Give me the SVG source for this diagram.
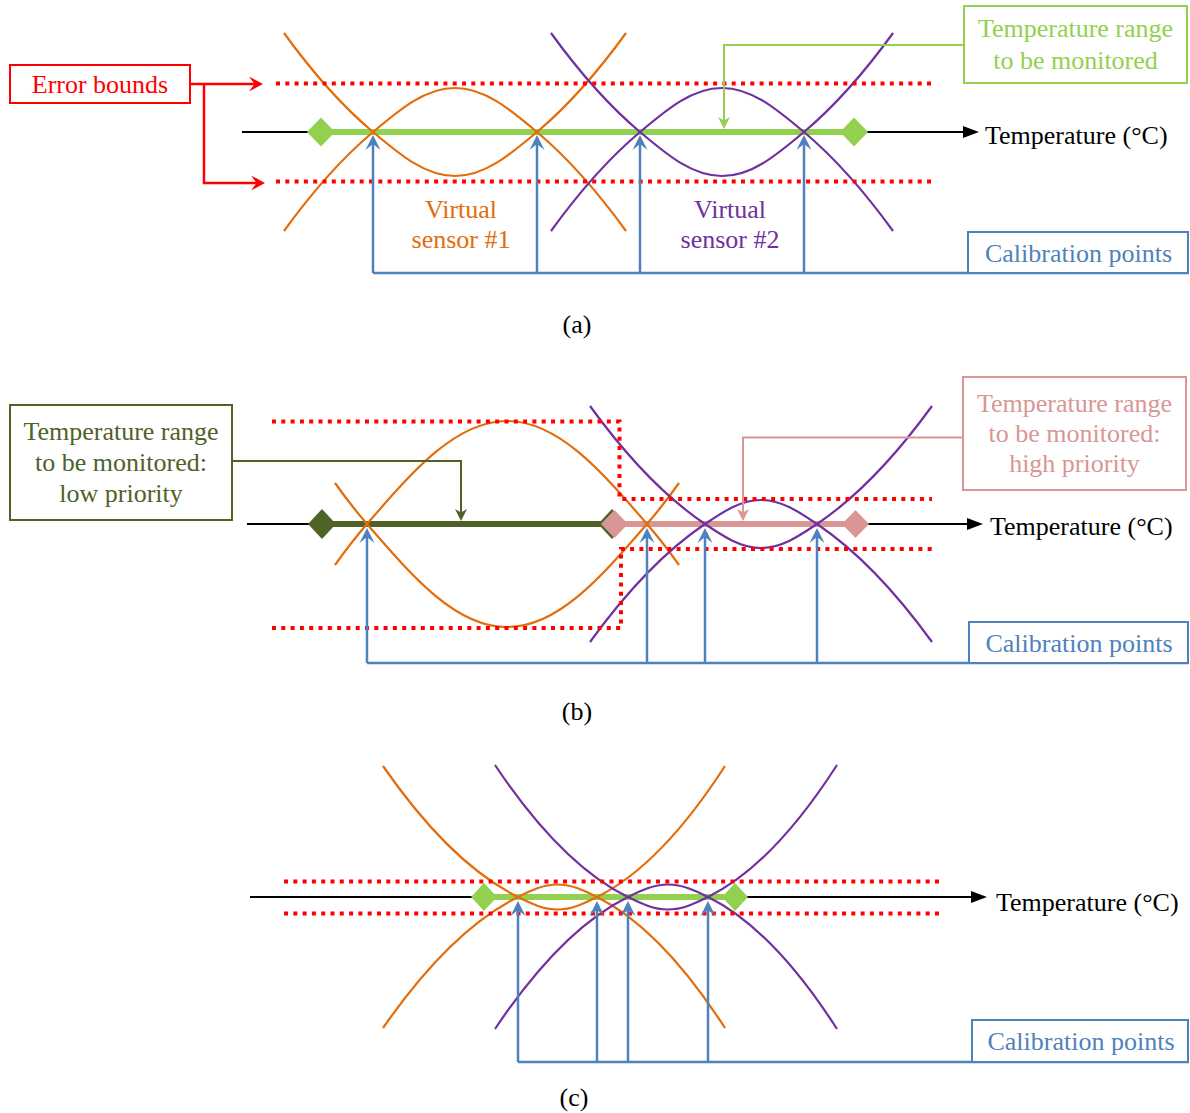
<svg xmlns="http://www.w3.org/2000/svg" width="1190" height="1113" viewBox="0 0 1190 1113">
  <style>
    .lbl { font-family: "Liberation Serif", "Times New Roman", serif; font-size: 26px; text-anchor: middle; }
    .lbl-l { font-family: "Liberation Serif", "Times New Roman", serif; font-size: 26px; }
    .axis { stroke: #000; stroke-width: 2; fill: none; }
    .bound { stroke: #FF0000; stroke-width: 4; stroke-dasharray: 4 5.3; fill: none; }
    .s1 { stroke: #E46C0A; stroke-width: 2.2; fill: none; }
    .s2 { stroke: #7030A0; stroke-width: 2.2; fill: none; }
    .cal { stroke: #4F81BD; stroke-width: 2.5; fill: none; }
    .box { fill: #fff; stroke-width: 2; }
  </style>
  <defs>
    <marker id="tri" viewBox="0 -7 17 14" refX="0" refY="0" markerWidth="17" markerHeight="14" markerUnits="userSpaceOnUse" orient="auto">
      <path d="M0,-6 L16,0 L0,6 Z" fill="#000"/>
    </marker>
    <marker id="arr-blue" viewBox="-8 -9 18 18" refX="0" refY="0" markerWidth="18" markerHeight="18" markerUnits="userSpaceOnUse" orient="auto">
      <path d="M8,0 L-7,-7.5 L-1,0 L-7,7.5 Z" fill="#4F81BD"/>
    </marker>
    <marker id="arr-red" viewBox="-8 -9 18 18" refX="0" refY="0" markerWidth="18" markerHeight="18" markerUnits="userSpaceOnUse" orient="auto">
      <path d="M8,0 L-6,-7.5 L-0.5,0 L-6,7.5 Z" fill="#FF0000"/>
    </marker>
    <marker id="arr-green" viewBox="-6 -8 16 16" refX="0" refY="0" markerWidth="16" markerHeight="16" markerUnits="userSpaceOnUse" orient="auto">
      <path d="M8,0 L-4,-6 L-0.5,0 L-4,6 Z" fill="#92D050"/>
    </marker>
    <marker id="arr-dkgreen" viewBox="-6 -8 16 16" refX="0" refY="0" markerWidth="16" markerHeight="16" markerUnits="userSpaceOnUse" orient="auto">
      <path d="M8,0 L-4,-6 L-0.5,0 L-4,6 Z" fill="#4F6228"/>
    </marker>
    <marker id="arr-pink" viewBox="-6 -8 16 16" refX="0" refY="0" markerWidth="16" markerHeight="16" markerUnits="userSpaceOnUse" orient="auto">
      <path d="M8,0 L-4,-6 L-0.5,0 L-4,6 Z" fill="#D99694"/>
    </marker>
  </defs>

  <!-- ===== Panel (a) ===== -->
  <g id="panel-a">
    <g id="a-axis">
      <line class="axis" x1="242" y1="132" x2="963" y2="132" marker-end="url(#tri)"/>
      <text class="lbl-l" x="985" y="144" fill="#000">Temperature (°C)</text>
    </g>
    <g id="a-range">
      <line x1="321" y1="132" x2="854" y2="132" stroke="#92D050" stroke-width="6"/>
      <path d="M307,132 L321,117.5 L335,132 L321,146.5 Z" fill="#92D050"/>
      <path d="M840,132 L854,117.5 L868,132 L854,146.5 Z" fill="#92D050"/>
    </g>
    <g id="a-sensor1">
      <path class="s1" d="M284,33 C313.67,74 343.33,107 373,132 C400.41,155.1 425.2,176 455,176 C484.8,176 509.59,155.1 537,132 C566.67,107 596.33,74 626,33"/>
      <path class="s1" d="M284,231 C313.67,190 343.33,157 373,132 C400.41,108.9 425.2,88 455,88 C484.8,88 509.59,108.9 537,132 C566.67,157 596.33,190 626,231"/>
    </g>
    <g id="a-sensor2" transform="translate(267,0)">
      <path class="s2" d="M284,33 C313.67,74 343.33,107 373,132 C400.41,155.1 425.2,176 455,176 C484.8,176 509.59,155.1 537,132 C566.67,107 596.33,74 626,33"/>
      <path class="s2" d="M284,231 C313.67,190 343.33,157 373,132 C400.41,108.9 425.2,88 455,88 C484.8,88 509.59,108.9 537,132 C566.67,157 596.33,190 626,231"/>
    </g>
    <g id="a-bounds">
      <line class="bound" x1="276" y1="83.5" x2="932" y2="83.5"/>
      <line class="bound" x1="276" y1="181.5" x2="932" y2="181.5"/>
    </g>
    <g id="a-label-s1" class="lbl" fill="#E46C0A">
      <text x="461" y="218">Virtual</text>
      <text x="461" y="248">sensor #1</text>
    </g>
    <g id="a-label-s2" class="lbl" fill="#7030A0">
      <text x="730" y="218">Virtual</text>
      <text x="730" y="248">sensor #2</text>
    </g>
    <g id="a-error-bounds">
      <rect class="box" x="10" y="65" width="180" height="38" stroke="#FF0000"/>
      <text class="lbl" x="100" y="93" fill="#FF0000">Error bounds</text>
    </g>
    <g id="a-range-note">
      <rect class="box" x="964" y="6" width="223" height="77" stroke="#92D050"/>
      <text class="lbl" x="1075.5" y="37" fill="#92D050">Temperature range</text>
      <text class="lbl" x="1075.5" y="68.5" fill="#92D050">to be monitored</text>
    </g>
    <g id="a-connectors">
      <path d="M190,84 H255" stroke="#FF0000" stroke-width="2.5" fill="none" marker-end="url(#arr-red)"/>
      <path d="M204,84 V183 H257" stroke="#FF0000" stroke-width="2.5" fill="none" marker-end="url(#arr-red)"/>
      <path d="M964,45 H724 V121" stroke="#92D050" stroke-width="2" fill="none" marker-end="url(#arr-green)"/>
      <path class="cal" d="M373,273 H1189"/>
      <line class="cal" x1="373" y1="273" x2="373" y2="143" marker-end="url(#arr-blue)"/>
      <line class="cal" x1="537" y1="273" x2="537" y2="143" marker-end="url(#arr-blue)"/>
      <line class="cal" x1="640" y1="273" x2="640" y2="143" marker-end="url(#arr-blue)"/>
      <line class="cal" x1="804" y1="273" x2="804" y2="143" marker-end="url(#arr-blue)"/>
    </g>
    <g id="a-calibration">
      <rect class="box" x="968" y="232" width="220" height="41" stroke="#4F81BD"/>
      <text class="lbl" x="1078.5" y="262" fill="#4F81BD">Calibration points</text>
    </g>
    <text class="lbl" x="577" y="333" fill="#000">(a)</text>
  </g>

  <!-- ===== Panel (b) ===== -->
  <g id="panel-b">
    <g id="b-axis">
      <line class="axis" x1="247" y1="524" x2="967" y2="524" marker-end="url(#tri)"/>
      <text class="lbl-l" x="990" y="535" fill="#000">Temperature (°C)</text>
    </g>
    <g id="b-range-low">
      <line x1="322" y1="524" x2="612" y2="524" stroke="#4F6228" stroke-width="6"/>
      <path d="M308,524 L322,509 L336,524 L322,539 Z" fill="#4F6228"/>
      <path d="M598,524 L612,509 L626,524 L612,539 Z" fill="#4F6228"/>
    </g>
    <g id="b-range-high">
      <line x1="614.5" y1="524" x2="855.5" y2="524" stroke="#D99694" stroke-width="6"/>
      <path d="M601,524 L614.5,510 L628,524 L614.5,538 Z" fill="#D99694"/>
      <path d="M842,524 L855.5,510 L869,524 L855.5,538 Z" fill="#D99694"/>
    </g>
    <g id="b-sensor1">
      <path class="s1" d="M335,483 C345.67,498.04 356.33,511.67 367,524 C413.8,578.09 456.12,627 507,627 C557.88,627 600.2,578.09 647,524 C657.67,511.67 668.33,498.04 679,483"/>
      <path class="s1" d="M335,565 C345.67,549.96 356.33,536.33 367,524 C413.8,469.91 456.12,421 507,421 C557.88,421 600.2,469.91 647,524 C657.67,536.33 668.33,549.96 679,565"/>
    </g>
    <g id="b-sensor2">
      <path class="s2" d="M590,406 C628.33,458.86 666.67,498.2 705,524 C723.72,536.6 740.65,548 761,548 C781.35,548 798.28,536.6 817,524 C855.33,498.2 893.67,458.86 932,406"/>
      <path class="s2" d="M590,642 C628.33,589.14 666.67,549.8 705,524 C723.72,511.4 740.65,500 761,500 C781.35,500 798.28,511.4 817,524 C855.33,549.8 893.67,589.14 932,642"/>
    </g>
    <g id="b-bounds">
      <path class="bound" d="M272,421.5 H619.5 V499 H932"/>
      <path class="bound" d="M272,628 H621 V549 H932"/>
    </g>
    <g id="b-low-note">
      <rect class="box" x="10" y="405" width="222" height="115" stroke="#4F6228"/>
      <text class="lbl" x="121" y="440" fill="#4F6228">Temperature range</text>
      <text class="lbl" x="121" y="471" fill="#4F6228">to be monitored:</text>
      <text class="lbl" x="121" y="502" fill="#4F6228">low priority</text>
    </g>
    <g id="b-high-note">
      <rect class="box" x="963" y="377" width="223" height="113" stroke="#D99694"/>
      <text class="lbl" x="1074.5" y="412" fill="#D99694">Temperature range</text>
      <text class="lbl" x="1074.5" y="442" fill="#D99694">to be monitored:</text>
      <text class="lbl" x="1074.5" y="472" fill="#D99694">high priority</text>
    </g>
    <g id="b-connectors">
      <path d="M232,461 H461 V513" stroke="#4F6228" stroke-width="2" fill="none" marker-end="url(#arr-dkgreen)"/>
      <path d="M963,437.5 H743 V513" stroke="#D99694" stroke-width="2" fill="none" marker-end="url(#arr-pink)"/>
      <path class="cal" d="M367,663 H1189"/>
      <line class="cal" x1="367" y1="663" x2="367" y2="536" marker-end="url(#arr-blue)"/>
      <line class="cal" x1="647" y1="663" x2="647" y2="536" marker-end="url(#arr-blue)"/>
      <line class="cal" x1="705" y1="663" x2="705" y2="536" marker-end="url(#arr-blue)"/>
      <line class="cal" x1="817" y1="663" x2="817" y2="536" marker-end="url(#arr-blue)"/>
    </g>
    <g id="b-calibration">
      <rect class="box" x="969" y="622" width="219" height="41" stroke="#4F81BD"/>
      <text class="lbl" x="1079" y="652" fill="#4F81BD">Calibration points</text>
    </g>
    <text class="lbl" x="577" y="720" fill="#000">(b)</text>
  </g>

  <!-- ===== Panel (c) ===== -->
  <g id="panel-c">
    <g id="c-axis">
      <line class="axis" x1="250" y1="897" x2="971" y2="897" marker-end="url(#tri)"/>
      <text class="lbl-l" x="996" y="911" fill="#000">Temperature (°C)</text>
    </g>
    <g id="c-range">
      <line x1="484" y1="897" x2="735" y2="897" stroke="#92D050" stroke-width="6"/>
      <path d="M471,897 L484,883 L497,897 L484,911 Z" fill="#92D050"/>
      <path d="M722,897 L735,883 L748,897 L735,911 Z" fill="#92D050"/>
    </g>
    <g id="c-sensor1">
      <path class="s1" d="M383,766 C428,830.98 473,874.63 518,897 C531.2,903.56 543.15,909.5 557.5,909.5 C571.85,909.5 583.8,903.56 597,897 C639.67,875.8 682.33,832.1 725,766"/>
      <path class="s1" d="M383,1028 C428,963.02 473,919.37 518,897 C531.2,890.44 543.15,884.5 557.5,884.5 C571.85,884.5 583.8,890.44 597,897 C639.67,918.2 682.33,961.9 725,1028"/>
    </g>
    <g id="c-sensor2">
      <path class="s2" d="M495,765 C539.33,831.23 583.67,875.23 628,897 C641.37,903.56 653.46,909.5 668,909.5 C682.54,909.5 694.63,903.56 708,897 C751,875.89 794,831.9 837,765"/>
      <path class="s2" d="M495,1029 C539.33,962.77 583.67,918.77 628,897 C641.37,890.44 653.46,884.5 668,884.5 C682.54,884.5 694.63,890.44 708,897 C751,918.11 794,962.1 837,1029"/>
    </g>
    <g id="c-bounds">
      <line class="bound" x1="284" y1="881.5" x2="940" y2="881.5"/>
      <line class="bound" x1="284" y1="913.5" x2="940" y2="913.5"/>
    </g>
    <g id="c-connectors">
      <path class="cal" d="M518,1062 H1189"/>
      <line class="cal" x1="518" y1="1062" x2="518" y2="909" marker-end="url(#arr-blue)"/>
      <line class="cal" x1="597" y1="1062" x2="597" y2="909" marker-end="url(#arr-blue)"/>
      <line class="cal" x1="628" y1="1062" x2="628" y2="909" marker-end="url(#arr-blue)"/>
      <line class="cal" x1="708" y1="1062" x2="708" y2="909" marker-end="url(#arr-blue)"/>
    </g>
    <g id="c-calibration">
      <rect class="box" x="972" y="1020" width="216" height="42" stroke="#4F81BD"/>
      <text class="lbl" x="1081" y="1050" fill="#4F81BD">Calibration points</text>
    </g>
    <text class="lbl" x="574" y="1106" fill="#000">(c)</text>
  </g>
</svg>
